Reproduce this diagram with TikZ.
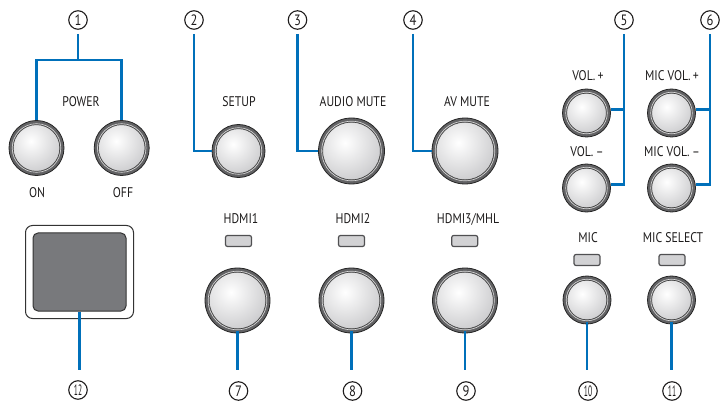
\documentclass[tikz,border=0pt]{standalone}
\usepackage{fontspec}
\setmainfont[FakeStretch=0.84]{PT Sans}
\usetikzlibrary{calc}
\definecolor{connblue}{RGB}{0,112,186}
\definecolor{ringgray}{RGB}{98,98,100}
\definecolor{ballgray}{RGB}{160,160,164}
\definecolor{ledfill}{RGB}{210,210,212}
\definecolor{ledline}{RGB}{80,80,82}
\definecolor{screengray}{RGB}{120,121,124}
\definecolor{txt}{RGB}{30,28,28}
\tikzset{
  btnring/.style={circle, inner sep=0pt, fill=ringgray, draw=black!85, line width=0.8pt},
  balledge/.style={draw=black!75, line width=0.6pt},
  ringlight/.style={draw=white!70!gray, line width=0.6pt},
  conn/.style={draw=connblue, line width=2.8pt, line join=miter},
  lbl/.style={font=\fontsize{14}{14}\selectfont, text=txt, inner sep=0pt},
  numc/.style={circle, draw=txt, text=txt, line width=1.1pt, minimum size=18.5pt, inner sep=0pt, font=\fontsize{15}{15}\selectfont},
  led/.style={rectangle, rounded corners=2pt, fill=ledfill, draw=ledline, line width=1.2pt, minimum width=26pt, minimum height=11pt, inner sep=0pt}
}
\newcommand\mybutton[4]{%
  \node[btnring, minimum size={2*#4*1pt}] (#1) at (#2,#3) {};
  \begin{scope}
    \clip (#2,#3) circle[radius={(#4-4.2)*1pt}];
    \shade[inner color=white, outer color=ballgray] ($(#2,#3)+({-0.2*#4},{-0.25*#4})$) circle[radius={2.2*#4*1pt}];
  \end{scope}
  \draw[balledge] (#2,#3) circle[radius={(#4-4.2)*1pt}];
  \draw[ringlight] (#2,#3) circle[radius={(#4-3.2)*1pt}];
}
\begin{document}
\begin{tikzpicture}[x=1pt,y=-1pt]
\useasboundingbox (0,0) rectangle (721,401);
% buttons
\mybutton{on}{36.5}{148}{27.5}
\mybutton{off}{121.7}{148}{27.5}
\mybutton{setup}{238.5}{151}{26.5}
\mybutton{amute}{351.5}{151}{33}
\mybutton{avmute}{465}{151}{33}
\mybutton{volp}{586.5}{113}{24}
\mybutton{volm}{586.5}{188}{24}
\mybutton{micvp}{671.5}{113}{24}
\mybutton{micvm}{671.5}{188}{24}
\mybutton{hdmia}{237.5}{300.5}{32.5}
\mybutton{hdmib}{351.5}{300.5}{32.5}
\mybutton{hdmic}{465}{300.5}{32.5}
\mybutton{mic}{587}{300}{24}
\mybutton{micsel}{671.5}{300}{24}
% LEDs
\node[led] (ledA) at (238.5,241) {};
\node[led] (ledB) at (351.5,241) {};
\node[led] (ledC) at (464.7,241) {};
\node[led] (ledD) at (587,260) {};
\node[led] (ledE) at (672,260) {};
% screen
\node[rectangle, rounded corners=7pt, fill=white, draw=black!80, line width=1pt, minimum width=108pt, minimum height=93pt] (frame) at (79.5,272) {};
\node[rectangle, rounded corners=5pt, fill=screengray, draw=black!80, line width=1pt, minimum width=93pt, minimum height=78pt] (screen) at (79.5,272) {};
% labels
\node[lbl] (lpower) at (81,102) {POWER};
\node[lbl] (lon) at (37,193) {ON};
\node[lbl] (loff) at (123,193) {OFF};
\node[lbl] (lsetup) at (239,102) {SETUP};
\node[lbl] (lamute) at (353,102) {AUDIO MUTE};
\node[lbl] (lavmute) at (467,102) {AV MUTE};
\node[lbl] (lvolp) at (588,76) {VOL.\,+};
\node[lbl] (lvolm) at (587,152) {VOL.\,–};
\node[lbl] (lmicvp) at (672,76) {MIC VOL.\,+};
\node[lbl] (lmicvm) at (672,152) {MIC VOL.\,–};
\node[lbl] (lhdmia) at (241,219) {HDMI1};
\node[lbl] (lhdmib) at (353,219) {HDMI2};
\node[lbl] (lhdmic) at (468,219) {HDMI3/MHL};
\node[lbl] (lmic) at (588,238) {MIC};
\node[lbl] (lmicsel) at (673,238) {MIC SELECT};
% circled numbers
\node[numc] (n1) at (78,20) {1};
\node[numc] (n2) at (194,20) {2};
\node[numc] (n3) at (297.5,20) {3};
\node[numc] (n4) at (413,20) {4};
\node[numc] (n5) at (624,20) {5};
\node[numc] (n6) at (710,20) {6};
\node[numc] (n7) at (238.5,391) {7};
\node[numc] (n8) at (352.5,391) {8};
\node[numc] (n9) at (466,391) {9};
\node[numc] (n10) at (588,391) {\scalebox{0.6}[1]{10}};
\node[numc] (n11) at (672,391) {\scalebox{0.6}[1]{11}};
\node[numc] (n12) at (78,390) {\scalebox{0.6}[1]{12}};
% connectors
\coordinate (pj) at (78,60);
\draw[conn, shorten <=4pt] (n1.south) -- (pj);
\draw[conn] (on.north) |- (pj) -| (off.north);
\draw[conn, shorten <=4pt] (n2.south) |- (setup.west);
\draw[conn, shorten <=4pt] (n3.south) |- (amute.west);
\draw[conn, shorten <=4pt] (n4.south) |- (avmute.west);
\draw[conn, shorten <=4pt] (n5.south) |- (volm.8);
\draw[conn] (volp.8) -- (volp.8 -| n5.south);
\draw[conn, shorten <=4pt] (n6.south) |- (micvm.8);
\draw[conn] (micvp.8) -- (micvp.8 -| n6.south);
\draw[conn, shorten <=-2pt, shorten >=11pt] (hdmia.south) -- (hdmia.south |- n7.north);
\draw[conn, shorten <=-2pt, shorten >=11pt] (hdmib.south) -- (hdmib.south |- n8.north);
\draw[conn, shorten <=-2pt, shorten >=11pt] (hdmic.south) -- (hdmic.south |- n9.north);
\draw[conn, shorten <=-2pt, shorten >=11pt] (mic.south) -- (mic.south |- n10.north);
\draw[conn, shorten <=-2pt, shorten >=11pt] (micsel.south) -- (micsel.south |- n11.north);
\draw[conn, shorten >=10pt] (screen.south) -- (screen.south |- n12.north);
\end{tikzpicture}
\end{document}
